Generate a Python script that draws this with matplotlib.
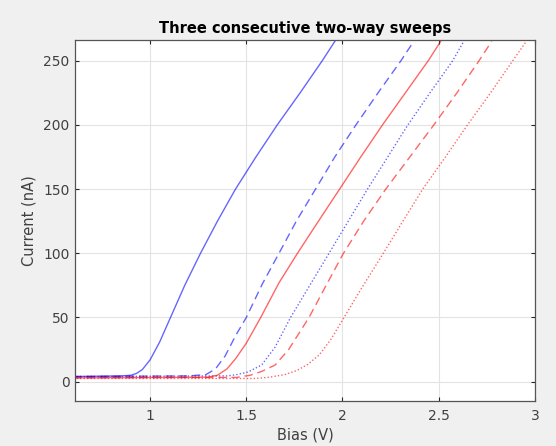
"""Three consecutive two-way sweeps - I-V curves"""
import matplotlib
matplotlib.use('Agg')
import matplotlib.pyplot as plt

# sweep 1 up (blue solid)
bias_b1 = [0.6, 0.85, 0.9, 0.93, 0.96, 1.0, 1.05, 1.106, 1.18, 1.262, 1.35, 1.444, 1.55, 1.661, 1.78, 1.895, 1.96, 2.0]
curr_b1 = [4, 4.5, 5, 6.5, 9.5, 17, 31, 50, 75, 100, 125, 150, 175, 200, 225, 250, 265, 273]

# sweep 2 up (blue dashed)
bias_b2 = [0.6, 1.2, 1.29, 1.34, 1.39, 1.445, 1.5, 1.583, 1.67, 1.76, 1.86, 1.96, 2.07, 2.185, 2.304, 2.37]
curr_b2 = [4, 4.5, 5.5, 10, 20, 36, 50, 76, 100, 125, 150, 175, 200, 225, 250, 265]

# sweep 3 up (blue dotted)
bias_b3 = [0.6, 1.4, 1.45, 1.51, 1.58, 1.65, 1.73, 1.83, 1.93, 2.03, 2.13, 2.235, 2.34, 2.455, 2.573, 2.63]
curr_b3 = [4, 4.5, 5.5, 7.6, 13, 27, 50, 75, 100, 125, 150, 175, 200, 225, 250, 265]

# sweep 1 down (red solid)
bias_r1 = [0.6, 1.3, 1.35, 1.40, 1.445, 1.5, 1.575, 1.67, 1.766, 1.875, 1.985, 2.095, 2.208, 2.327, 2.446, 2.51]
curr_r1 = [3, 3.5, 5, 10, 18, 30, 50, 77, 100, 125, 150, 175, 200, 225, 250, 265]

# sweep 2 down (red dashed)
bias_r2 = [0.6, 1.45, 1.52, 1.58, 1.65, 1.72, 1.826, 1.915, 2.005, 2.11, 2.225, 2.35, 2.475, 2.595, 2.71, 2.775]
curr_r2 = [3, 3.3, 5, 8, 13, 25, 50, 75, 100, 125, 150, 175, 200, 225, 250, 265]

# sweep 3 down (red dotted)
bias_r3 = [0.6, 1.55, 1.62, 1.70, 1.76, 1.82, 1.88, 1.94, 2.0, 2.1, 2.208, 2.31, 2.417, 2.535, 2.65, 2.77, 2.885, 2.955]
curr_r3 = [2.5, 2.5, 3.5, 5.5, 8.5, 13.5, 21, 33, 48, 73, 99, 124, 150, 175, 200, 225, 250, 265]

x_ticks = [1, 1.5, 2, 2.5, 3]
x_tick_labels = ['1', '1.5', '2', '2.5', '3']
y_ticks = [0, 50, 100, 150, 200, 250]

plt.rcParams['font.family'] = ['DejaVu Sans']

fig = plt.figure(figsize=(5.56, 4.46), dpi=100, facecolor='#f0f0f0')
ax = fig.add_axes([0.135, 0.101, 0.827, 0.809])
ax.set_facecolor('white')

blue = '#0000ff'
red = '#ff0000'
kw = dict(lw=1.0, alpha=0.6)
ax.plot(bias_b1, curr_b1, color=blue, ls='-', **kw)
ax.plot(bias_b2, curr_b2, color=blue, dashes=[6, 3.5], **kw)
ax.plot(bias_b3, curr_b3, color=blue, dashes=[1, 1.5], **kw)
ax.plot(bias_r1, curr_r1, color=red, ls='-', **kw)
ax.plot(bias_r2, curr_r2, color=red, dashes=[6, 3.5], **kw)
ax.plot(bias_r3, curr_r3, color=red, dashes=[1, 1.5], **kw)

ax.set_xlim(0.61, 3.0)
ax.set_ylim(-15, 266)
ax.set_xticks(x_ticks)
ax.set_xticklabels(x_tick_labels)
ax.set_yticks(y_ticks)

ax.grid(True, color='#e3e3e3', lw=0.8)
ax.set_axisbelow(True)
ax.tick_params(direction='in', length=3, width=0.8, color='#262626',
               labelcolor='#404040', labelsize=10, top=True, right=True)
ax.tick_params(axis='x', pad=6)
ax.tick_params(axis='y', pad=4)
for s in ax.spines.values():
    s.set_color('#555555')
    s.set_linewidth(0.9)

ax.set_xlabel('Bias (V)', fontsize=10.5, color='#404040', labelpad=3)
ax.set_ylabel('Current (nA)', fontsize=10.5, color='#404040', labelpad=5)
ax.set_title('Three consecutive two-way sweeps', fontsize=10.5, fontweight='bold', pad=5)

plt.savefig('out.png', dpi=100, facecolor=fig.get_facecolor())
plt.close()
